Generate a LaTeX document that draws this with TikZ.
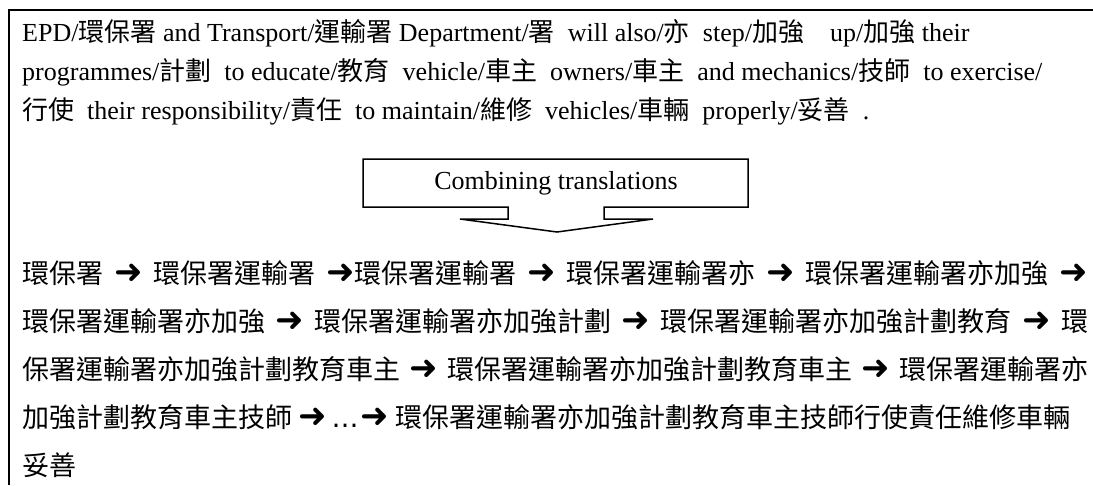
\documentclass[tikz,border=0pt]{standalone}
\usepackage{fontspec}
\setmainfont{Liberation Serif}
\newfontfamily\cjk{Noto Sans CJK TC}
\newfontfamily\arrfont{DejaVu Sans}
\newcommand{\zh}[1]{{\cjk #1}}
\newcommand{\rarr}{{\arrfont\fontsize{34}{38}\selectfont ➜}}
\newcommand{\ellip}{{\arrfont …}}
\begin{document}
\begin{tikzpicture}[x=1pt,y=-1pt,
  line/.style={inner sep=0pt, anchor=base west, font=\fontsize{26}{30}\selectfont},
  zhline/.style={inner sep=0pt, anchor=base west, font=\fontsize{27}{32}\selectfont\cjk}]
\useasboundingbox (0,0) rectangle (1093,485);
\fill[white] (0,0) rectangle (1093,485);
% frame
\draw[line width=2.5pt] (9,485) -- (9,10) -- (1093,10);
% English source with word translations
\node[line] (e1) at (22,41) {EPD/\zh{環保署} and Transport/\zh{運輸署} Department/\zh{署}\ \ will also/\zh{亦}\ \ step/\zh{加強}\ \ \ \ up/\zh{加強} their};
\node[line] (e2) at (22,80) {programmes/\zh{計劃}\ \ to educate/\zh{教育}\ \ vehicle/\zh{車主}\ \ owners/\zh{車主}\ \ and mechanics/\zh{技師}\ \ to exercise/};
\node[line] (e3) at (22,119) {\zh{行使}\ \ their responsibility/\zh{責任}\ \ to maintain/\zh{維修}\ \ vehicles/\zh{車輛}\ \ properly/\zh{妥善}\ \ .};
% callout arrow
\node[inner sep=0pt, font=\fontsize{26}{30}\selectfont] (comb) at (556,183) {Combining translations};
\draw[line width=1.5pt, line join=miter]
  (363,159) -- (748,159) -- (748,207) -- (604,207) -- (604,219) -- (653,219)
  -- (557,232) -- (460,219) -- (508,219) -- (508,207) -- (363,207) -- cycle;
% combined translations
\node[zhline] (z1) at (22,283) {\makebox[1066pt][l]{環保署\hfill\rarr\hfill 環保署運輸署\hfill\rarr 環保署運輸署\hfill\rarr\hfill 環保署運輸署亦\hfill\rarr\hfill 環保署運輸署亦加強\hfill\rarr}};
\node[zhline] (z2) at (22,331) {\makebox[1066pt][l]{環保署運輸署亦加強\hfill\rarr\hfill 環保署運輸署亦加強計劃\hfill\rarr\hfill 環保署運輸署亦加強計劃教育\hfill\rarr\hfill 環}};
\node[zhline] (z3) at (22,379) {\makebox[1066pt][l]{保署運輸署亦加強計劃教育車主\hfill\rarr\hfill 環保署運輸署亦加強計劃教育車主\hfill\rarr\hfill 環保署運輸署亦}};
\node[zhline] (z4) at (22,427) {加強計劃教育車主技師\hspace{6pt}\rarr\hspace{5pt}\ellip\hspace{2pt}\rarr\hspace{6pt}環保署運輸署亦加強計劃教育車主技師行使責任維修車輛};
\node[zhline] (z5) at (22,475) {妥善};
\end{tikzpicture}
\end{document}
